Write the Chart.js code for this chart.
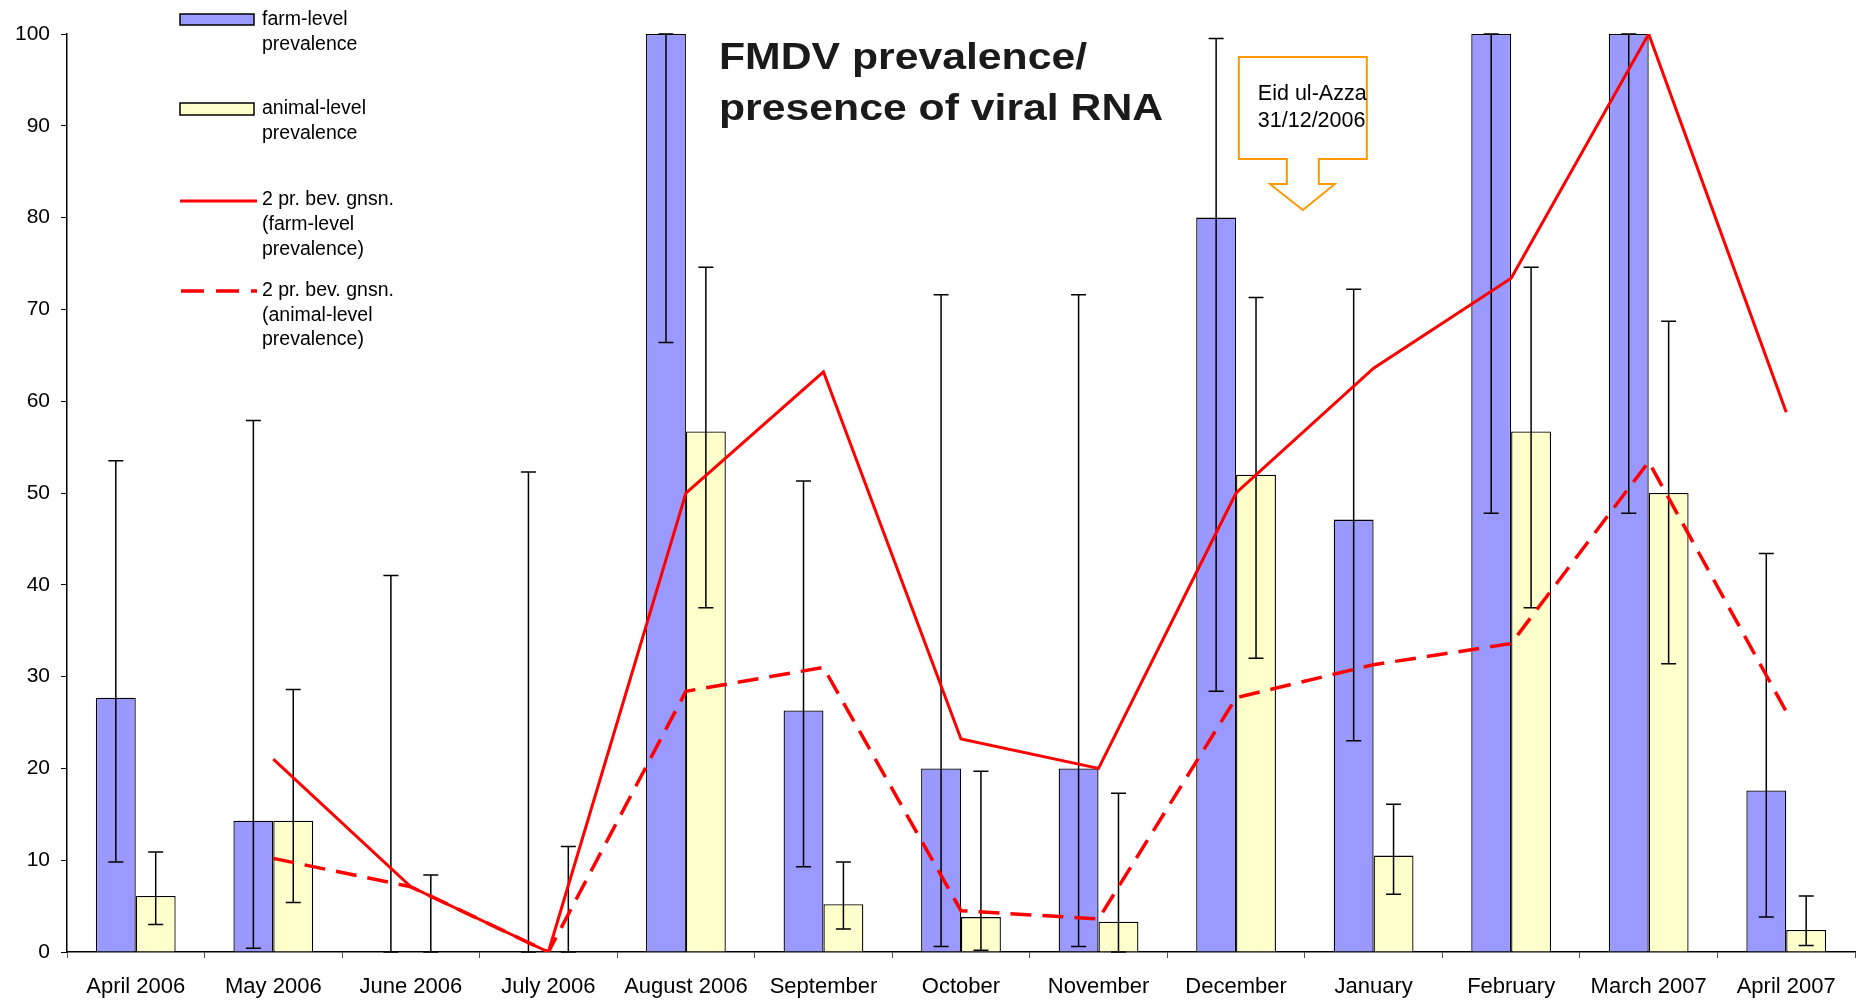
<!DOCTYPE html>
<html lang="en">
<head>
    <meta charset="UTF-8">
    <title>FMDV prevalence</title>
    <script src="https://cdn.jsdelivr.net/npm/chart.js@4.4.0/dist/chart.umd.min.js"></script>
    <style>
        body { margin: 0; background: #fff; }
    </style>
</head>
<body>
    <canvas id="myChart" width="1858" height="1002"></canvas>
    <script>
        const months = ['April 2006', 'May 2006', 'June 2006', 'July 2006', 'August 2006', 'September',
            'October', 'November', 'December', 'January', 'February', 'March 2007', 'April 2007'];

        // farm-level prevalence with its interval
        const farmLevel = [27.7, 14.3, 0, 0, 100, 26.3, 20, 20, 80, 47.1, 100, 100, 17.6];
        const farmLow = [9.8, 0.4, 0, 0, 66.4, 9.3, 0.6, 0.6, 28.4, 23, 47.8, 47.8, 3.8];
        const farmHigh = [53.5, 57.9, 41, 52.3, 100, 51.3, 71.6, 71.6, 99.5, 72.2, 100, 100, 43.4];

        // animal-level prevalence with its interval
        const animalLevel = [6.1, 14.3, 0, 0, 56.7, 5.2, 3.8, 3.3, 52, 10.5, 56.7, 50, 2.4];
        const animalLow = [3, 5.4, 0, 0, 37.5, 2.5, 0.2, 0, 32, 6.3, 37.5, 31.4, 0.7];
        const animalHigh = [10.9, 28.6, 8.4, 11.5, 74.6, 9.8, 19.7, 17.3, 71.3, 16.1, 74.6, 68.7, 6.1];

        // 2 pr. bev. gnsn. lines
        const farmAvg = [null, 21, 7.1, 0, 50, 63.2, 23.2, 20, 50, 63.6, 73.4, 100, 58.8];
        const animalAvg = [null, 10.2, 7.1, 0, 28.4, 31, 4.5, 3.6, 27.7, 31.3, 33.6, 53.4, 26.2];

        const yTicks = [0, 10, 20, 30, 40, 50, 60, 70, 80, 90, 100];

        const FONT = "'Liberation Sans', Arial, sans-serif";
        const errors = { 2: [farmLow, farmHigh], 3: [animalLow, animalHigh] };

        const errorBars = {
            id: 'errorBars',
            afterDatasetDraw(chart, args) {
                const err = errors[args.index];
                if (!err) return;
                const ctx = chart.ctx;
                const y = chart.scales.y;
                ctx.save();
                ctx.strokeStyle = '#000';
                ctx.lineWidth = 1.5;
                args.meta.data.forEach((bar, i) => {
                    const x = bar.x;
                    const y1 = y.getPixelForValue(err[0][i]);
                    const y2 = y.getPixelForValue(err[1][i]);
                    ctx.beginPath();
                    ctx.moveTo(x, y1); ctx.lineTo(x, y2);
                    ctx.moveTo(x - 7.5, y1); ctx.lineTo(x + 7.5, y1);
                    ctx.moveTo(x - 7.5, y2); ctx.lineTo(x + 7.5, y2);
                    ctx.stroke();
                });
                ctx.restore();
            }
        };

        const decorations = {
            id: 'decorations',
            afterDraw(chart) {
                const ctx = chart.ctx;
                ctx.save();

                // legend
                ctx.font = '19.5px ' + FONT;
                ctx.textBaseline = 'alphabetic';
                ctx.lineWidth = 1.5;
                ctx.strokeStyle = '#000';
                ctx.fillStyle = '#9999FF';
                ctx.fillRect(180, 14, 74, 11);
                ctx.strokeRect(180, 14, 74, 11);
                ctx.fillStyle = '#FFFFCC';
                ctx.fillRect(180, 103, 74, 12);
                ctx.strokeRect(180, 103, 74, 12);

                ctx.strokeStyle = '#FF0000';
                ctx.lineWidth = 3;
                ctx.beginPath(); ctx.moveTo(180, 201); ctx.lineTo(257, 201); ctx.stroke();
                ctx.lineWidth = 3.5;
                ctx.setLineDash([23, 12]);
                ctx.beginPath(); ctx.moveTo(181, 291); ctx.lineTo(257, 291); ctx.stroke();
                ctx.setLineDash([]);

                ctx.fillStyle = '#000';
                const legendText = [
                    ['farm-level', 25], ['prevalence', 50],
                    ['animal-level', 114], ['prevalence', 139],
                    ['2 pr. bev. gnsn.', 205], ['(farm-level', 230], ['prevalence)', 255],
                    ['2 pr. bev. gnsn.', 296], ['(animal-level', 321], ['prevalence)', 345]
                ];
                legendText.forEach(t => ctx.fillText(t[0], 262, t[1]));

                // title
                ctx.fillStyle = '#1a1a1a';
                ctx.font = 'bold 37px ' + FONT;
                [['FMDV prevalence/', 69], ['presence of viral RNA', 120]].forEach(t => {
                    ctx.save();
                    ctx.translate(719, t[1]);
                    ctx.scale(1.155, 1);
                    ctx.fillText(t[0], 0, 0);
                    ctx.restore();
                });

                // Eid ul-Azza callout, pointing at the December/January boundary
                const xs = chart.scales.x;
                const cx = (xs.getPixelForValue(8) + xs.getPixelForValue(9)) / 2 - 2;
                ctx.strokeStyle = '#FF9900';
                ctx.lineWidth = 2;
                ctx.beginPath();
                ctx.moveTo(cx - 64, 57);
                ctx.lineTo(cx + 64, 57);
                ctx.lineTo(cx + 64, 159);
                ctx.lineTo(cx + 16, 159);
                ctx.lineTo(cx + 16, 184);
                ctx.lineTo(cx + 32, 184);
                ctx.lineTo(cx, 210);
                ctx.lineTo(cx - 33, 184);
                ctx.lineTo(cx - 16, 184);
                ctx.lineTo(cx - 16, 159);
                ctx.lineTo(cx - 64, 159);
                ctx.closePath();
                ctx.stroke();
                ctx.fillStyle = '#000';
                ctx.font = '21.5px ' + FONT;
                ctx.fillText('Eid ul-Azza', cx - 45, 100);
                ctx.fillText('31/12/2006', cx - 45, 127);

                ctx.restore();
            }
        };

        const ctx = document.getElementById('myChart').getContext('2d');
        const myChart = new Chart(ctx, {
            data: {
                labels: months,
                datasets: [
                    {
                        type: 'line',
                        label: '2 pr. bev. gnsn. (farm-level prevalence)',
                        data: farmAvg,
                        borderColor: '#FF0000',
                        borderWidth: 3,
                        pointRadius: 0,
                        tension: 0,
                        order: 1
                    },
                    {
                        type: 'line',
                        label: '2 pr. bev. gnsn. (animal-level prevalence)',
                        data: animalAvg,
                        borderColor: '#FF0000',
                        borderWidth: 3.5,
                        borderDash: [21, 11],
                        pointRadius: 0,
                        tension: 0,
                        order: 1
                    },
                    {
                        type: 'bar',
                        label: 'farm-level prevalence',
                        data: farmLevel,
                        backgroundColor: '#9999FF',
                        borderColor: '#000',
                        borderWidth: 1.3,
                        order: 2
                    },
                    {
                        type: 'bar',
                        label: 'animal-level prevalence',
                        data: animalLevel,
                        backgroundColor: '#FFFFCC',
                        borderColor: '#000',
                        borderWidth: 1.3,
                        order: 2
                    }
                ]
            },
            plugins: [errorBars, decorations],
            options: {
                responsive: false,
                animation: false,
                layout: { padding: { top: 34, right: 3, left: 0, bottom: 0 } },
                datasets: {
                    bar: { categoryPercentage: 0.58, barPercentage: 1.0 }
                },
                plugins: {
                    legend: { display: false },
                    tooltip: { enabled: false },
                    title: { display: false }
                },
                scales: {
                    x: {
                        grid: { offset: true, drawOnChartArea: false, drawTicks: true, tickLength: 6, color: '#555' },
                        border: { color: '#000', width: 1.5 },
                        ticks: {
                            color: '#000',
                            font: { family: FONT, size: 22 },
                            padding: 15.5,
                            maxRotation: 0,
                            autoSkip: false
                        },
                        afterFit: scale => { scale.height = 50; }
                    },
                    y: {
                        min: 0,
                        max: 100,
                        afterBuildTicks: scale => { scale.ticks = yTicks.map(v => ({ value: v })); },
                        grid: { drawOnChartArea: false, drawTicks: true, tickLength: 6, color: '#000' },
                        border: { color: '#000', width: 1.5 },
                        ticks: {
                            color: '#000',
                            font: { family: FONT, size: 21 },
                            padding: 11
                        },
                        afterFit: scale => { scale.width = 67; }
                    }
                }
            }
        });
    </script>
</body>
</html>
